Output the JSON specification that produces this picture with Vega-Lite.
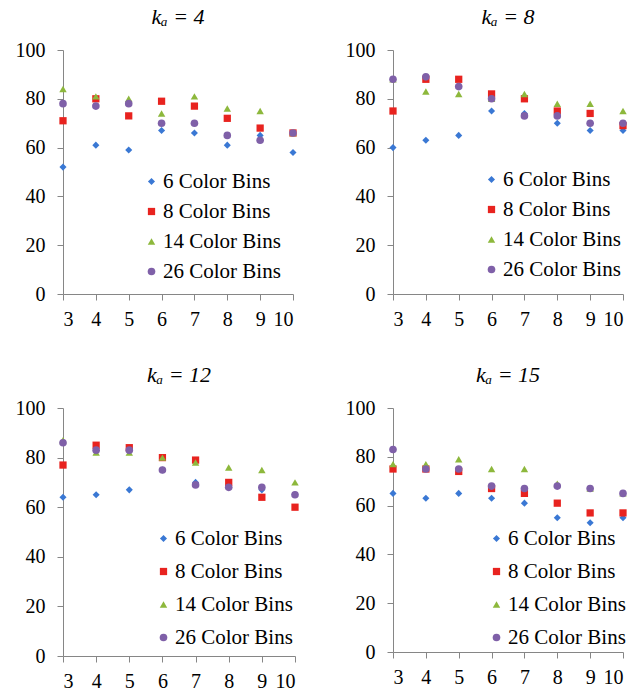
{
  "$schema": "https://vega.github.io/schema/vega-lite/v6.json",
  "background": "white",
  "padding": {"left": 15, "top": 6, "right": 0, "bottom": 0},
  "spacing": {"row": 35, "column": 46},
  "datasets": {
    "acc": [
      {"ka": 4, "k": 3, "bins": "6 Color Bins", "acc": 52},
      {"ka": 4, "k": 4, "bins": "6 Color Bins", "acc": 61},
      {"ka": 4, "k": 5, "bins": "6 Color Bins", "acc": 59},
      {"ka": 4, "k": 6, "bins": "6 Color Bins", "acc": 67},
      {"ka": 4, "k": 7, "bins": "6 Color Bins", "acc": 66},
      {"ka": 4, "k": 8, "bins": "6 Color Bins", "acc": 61},
      {"ka": 4, "k": 9, "bins": "6 Color Bins", "acc": 65},
      {"ka": 4, "k": 10, "bins": "6 Color Bins", "acc": 58},
      {"ka": 4, "k": 3, "bins": "8 Color Bins", "acc": 71},
      {"ka": 4, "k": 4, "bins": "8 Color Bins", "acc": 80},
      {"ka": 4, "k": 5, "bins": "8 Color Bins", "acc": 73},
      {"ka": 4, "k": 6, "bins": "8 Color Bins", "acc": 79},
      {"ka": 4, "k": 7, "bins": "8 Color Bins", "acc": 77},
      {"ka": 4, "k": 8, "bins": "8 Color Bins", "acc": 72},
      {"ka": 4, "k": 9, "bins": "8 Color Bins", "acc": 68},
      {"ka": 4, "k": 10, "bins": "8 Color Bins", "acc": 66},
      {"ka": 4, "k": 3, "bins": "14 Color Bins", "acc": 84},
      {"ka": 4, "k": 4, "bins": "14 Color Bins", "acc": 81},
      {"ka": 4, "k": 5, "bins": "14 Color Bins", "acc": 80},
      {"ka": 4, "k": 6, "bins": "14 Color Bins", "acc": 74},
      {"ka": 4, "k": 7, "bins": "14 Color Bins", "acc": 81},
      {"ka": 4, "k": 8, "bins": "14 Color Bins", "acc": 76},
      {"ka": 4, "k": 9, "bins": "14 Color Bins", "acc": 75},
      {"ka": 4, "k": 10, "bins": "14 Color Bins", "acc": 66},
      {"ka": 4, "k": 3, "bins": "26 Color Bins", "acc": 78},
      {"ka": 4, "k": 4, "bins": "26 Color Bins", "acc": 77},
      {"ka": 4, "k": 5, "bins": "26 Color Bins", "acc": 78},
      {"ka": 4, "k": 6, "bins": "26 Color Bins", "acc": 70},
      {"ka": 4, "k": 7, "bins": "26 Color Bins", "acc": 70},
      {"ka": 4, "k": 8, "bins": "26 Color Bins", "acc": 65},
      {"ka": 4, "k": 9, "bins": "26 Color Bins", "acc": 63},
      {"ka": 4, "k": 10, "bins": "26 Color Bins", "acc": 66},

      {"ka": 8, "k": 3, "bins": "6 Color Bins", "acc": 60},
      {"ka": 8, "k": 4, "bins": "6 Color Bins", "acc": 63},
      {"ka": 8, "k": 5, "bins": "6 Color Bins", "acc": 65},
      {"ka": 8, "k": 6, "bins": "6 Color Bins", "acc": 75},
      {"ka": 8, "k": 7, "bins": "6 Color Bins", "acc": 74},
      {"ka": 8, "k": 8, "bins": "6 Color Bins", "acc": 70},
      {"ka": 8, "k": 9, "bins": "6 Color Bins", "acc": 67},
      {"ka": 8, "k": 10, "bins": "6 Color Bins", "acc": 67},
      {"ka": 8, "k": 3, "bins": "8 Color Bins", "acc": 75},
      {"ka": 8, "k": 4, "bins": "8 Color Bins", "acc": 88},
      {"ka": 8, "k": 5, "bins": "8 Color Bins", "acc": 88},
      {"ka": 8, "k": 6, "bins": "8 Color Bins", "acc": 82},
      {"ka": 8, "k": 7, "bins": "8 Color Bins", "acc": 80},
      {"ka": 8, "k": 8, "bins": "8 Color Bins", "acc": 75},
      {"ka": 8, "k": 9, "bins": "8 Color Bins", "acc": 74},
      {"ka": 8, "k": 10, "bins": "8 Color Bins", "acc": 69},
      {"ka": 8, "k": 3, "bins": "14 Color Bins", "acc": 88},
      {"ka": 8, "k": 4, "bins": "14 Color Bins", "acc": 83},
      {"ka": 8, "k": 5, "bins": "14 Color Bins", "acc": 82},
      {"ka": 8, "k": 6, "bins": "14 Color Bins", "acc": 80},
      {"ka": 8, "k": 7, "bins": "14 Color Bins", "acc": 82},
      {"ka": 8, "k": 8, "bins": "14 Color Bins", "acc": 78},
      {"ka": 8, "k": 9, "bins": "14 Color Bins", "acc": 78},
      {"ka": 8, "k": 10, "bins": "14 Color Bins", "acc": 75},
      {"ka": 8, "k": 3, "bins": "26 Color Bins", "acc": 88},
      {"ka": 8, "k": 4, "bins": "26 Color Bins", "acc": 89},
      {"ka": 8, "k": 5, "bins": "26 Color Bins", "acc": 85},
      {"ka": 8, "k": 6, "bins": "26 Color Bins", "acc": 80},
      {"ka": 8, "k": 7, "bins": "26 Color Bins", "acc": 73},
      {"ka": 8, "k": 8, "bins": "26 Color Bins", "acc": 73},
      {"ka": 8, "k": 9, "bins": "26 Color Bins", "acc": 70},
      {"ka": 8, "k": 10, "bins": "26 Color Bins", "acc": 70},

      {"ka": 12, "k": 3, "bins": "6 Color Bins", "acc": 64},
      {"ka": 12, "k": 4, "bins": "6 Color Bins", "acc": 65},
      {"ka": 12, "k": 5, "bins": "6 Color Bins", "acc": 67},
      {"ka": 12, "k": 6, "bins": "6 Color Bins", "acc": 75},
      {"ka": 12, "k": 7, "bins": "6 Color Bins", "acc": 70},
      {"ka": 12, "k": 8, "bins": "6 Color Bins", "acc": 68},
      {"ka": 12, "k": 9, "bins": "6 Color Bins", "acc": 67},
      {"ka": 12, "k": 10, "bins": "6 Color Bins", "acc": 65},
      {"ka": 12, "k": 3, "bins": "8 Color Bins", "acc": 77},
      {"ka": 12, "k": 4, "bins": "8 Color Bins", "acc": 85},
      {"ka": 12, "k": 5, "bins": "8 Color Bins", "acc": 84},
      {"ka": 12, "k": 6, "bins": "8 Color Bins", "acc": 80},
      {"ka": 12, "k": 7, "bins": "8 Color Bins", "acc": 79},
      {"ka": 12, "k": 8, "bins": "8 Color Bins", "acc": 70},
      {"ka": 12, "k": 9, "bins": "8 Color Bins", "acc": 64},
      {"ka": 12, "k": 10, "bins": "8 Color Bins", "acc": 60},
      {"ka": 12, "k": 3, "bins": "14 Color Bins", "acc": 87},
      {"ka": 12, "k": 4, "bins": "14 Color Bins", "acc": 82},
      {"ka": 12, "k": 5, "bins": "14 Color Bins", "acc": 82},
      {"ka": 12, "k": 6, "bins": "14 Color Bins", "acc": 80},
      {"ka": 12, "k": 7, "bins": "14 Color Bins", "acc": 78},
      {"ka": 12, "k": 8, "bins": "14 Color Bins", "acc": 76},
      {"ka": 12, "k": 9, "bins": "14 Color Bins", "acc": 75},
      {"ka": 12, "k": 10, "bins": "14 Color Bins", "acc": 70},
      {"ka": 12, "k": 3, "bins": "26 Color Bins", "acc": 86},
      {"ka": 12, "k": 4, "bins": "26 Color Bins", "acc": 83},
      {"ka": 12, "k": 5, "bins": "26 Color Bins", "acc": 83},
      {"ka": 12, "k": 6, "bins": "26 Color Bins", "acc": 75},
      {"ka": 12, "k": 7, "bins": "26 Color Bins", "acc": 69},
      {"ka": 12, "k": 8, "bins": "26 Color Bins", "acc": 68},
      {"ka": 12, "k": 9, "bins": "26 Color Bins", "acc": 68},
      {"ka": 12, "k": 10, "bins": "26 Color Bins", "acc": 65},

      {"ka": 15, "k": 3, "bins": "6 Color Bins", "acc": 65},
      {"ka": 15, "k": 4, "bins": "6 Color Bins", "acc": 63},
      {"ka": 15, "k": 5, "bins": "6 Color Bins", "acc": 65},
      {"ka": 15, "k": 6, "bins": "6 Color Bins", "acc": 63},
      {"ka": 15, "k": 7, "bins": "6 Color Bins", "acc": 61},
      {"ka": 15, "k": 8, "bins": "6 Color Bins", "acc": 55},
      {"ka": 15, "k": 9, "bins": "6 Color Bins", "acc": 53},
      {"ka": 15, "k": 10, "bins": "6 Color Bins", "acc": 55},
      {"ka": 15, "k": 3, "bins": "8 Color Bins", "acc": 75},
      {"ka": 15, "k": 4, "bins": "8 Color Bins", "acc": 75},
      {"ka": 15, "k": 5, "bins": "8 Color Bins", "acc": 74},
      {"ka": 15, "k": 6, "bins": "8 Color Bins", "acc": 67},
      {"ka": 15, "k": 7, "bins": "8 Color Bins", "acc": 65},
      {"ka": 15, "k": 8, "bins": "8 Color Bins", "acc": 61},
      {"ka": 15, "k": 9, "bins": "8 Color Bins", "acc": 57},
      {"ka": 15, "k": 10, "bins": "8 Color Bins", "acc": 57},
      {"ka": 15, "k": 3, "bins": "14 Color Bins", "acc": 77},
      {"ka": 15, "k": 4, "bins": "14 Color Bins", "acc": 77},
      {"ka": 15, "k": 5, "bins": "14 Color Bins", "acc": 79},
      {"ka": 15, "k": 6, "bins": "14 Color Bins", "acc": 75},
      {"ka": 15, "k": 7, "bins": "14 Color Bins", "acc": 75},
      {"ka": 15, "k": 8, "bins": "14 Color Bins", "acc": 69},
      {"ka": 15, "k": 9, "bins": "14 Color Bins", "acc": 67},
      {"ka": 15, "k": 10, "bins": "14 Color Bins", "acc": 65},
      {"ka": 15, "k": 3, "bins": "26 Color Bins", "acc": 83},
      {"ka": 15, "k": 4, "bins": "26 Color Bins", "acc": 75},
      {"ka": 15, "k": 5, "bins": "26 Color Bins", "acc": 75},
      {"ka": 15, "k": 6, "bins": "26 Color Bins", "acc": 68},
      {"ka": 15, "k": 7, "bins": "26 Color Bins", "acc": 67},
      {"ka": 15, "k": 8, "bins": "26 Color Bins", "acc": 68},
      {"ka": 15, "k": 9, "bins": "26 Color Bins", "acc": 67},
      {"ka": 15, "k": 10, "bins": "26 Color Bins", "acc": 65}
    ]
  },
  "config": {
    "view": {"stroke": null},
    "axis": {
      "grid": false,
      "domainColor": "#868686",
      "tickColor": "#868686",
      "tickSize": 6,
      "labelFontSize": 20,
      "labelColor": "#000000",
      "title": null
    },
    "legend": {
      "orient": "none",
      "title": null,
      "labelFontSize": 21,
      "labelColor": "#000000",
      "symbolStrokeWidth": 0,
      "labelOffset": 1,
      "padding": 0
    }
  },
  "columns": 2,
  "resolve": {
    "scale": {"color": "independent", "shape": "independent", "size": "independent"},
    "legend": {"color": "independent", "shape": "independent", "size": "independent"}
  },
  "concat": [
    {
      "title": {"text": "kₐ = 4", "font": "Liberation Serif", "fontSize": 22, "fontWeight": "normal", "fontStyle": "italic", "color": "#000000", "offset": 11, "frame": "group"},
      "width": 230, "height": 244,
      "data": {"name": "acc"},
      "transform": [{"filter": "datum.ka == 4"}],
      "mark": {"type": "point", "filled": true, "opacity": 1},
      "encoding": {
        "x": {"field": "k", "type": "quantitative", "scale": {"domain": [3, 10], "nice": false, "zero": false}, "axis": {"values": [3, 4, 5, 6, 7, 8, 9, 10], "labelFont": "Liberation Serif", "labelPadding": 9}},
        "y": {"field": "acc", "type": "quantitative", "scale": {"domain": [0, 100]}, "axis": {"values": [0, 20, 40, 60, 80, 100], "labelFont": "Liberation Serif", "labelPadding": 12}},
        "color": {"field": "bins", "type": "nominal", "scale": {"domain": ["6 Color Bins", "8 Color Bins", "14 Color Bins", "26 Color Bins"], "range": ["#3a78d4", "#e8231f", "#8db83c", "#7f60a8"]}, "legend": {"labelFont": "Liberation Serif", "legendX": 78, "legendY": 121, "rowPadding": 8}},
        "shape": {"field": "bins", "type": "nominal", "scale": {"domain": ["6 Color Bins", "8 Color Bins", "14 Color Bins", "26 Color Bins"], "range": ["diamond", "square", "triangle-up", "circle"]}, "legend": {"labelFont": "Liberation Serif", "legendX": 78, "legendY": 121, "rowPadding": 8}},
        "size": {"field": "bins", "type": "nominal", "scale": {"domain": ["6 Color Bins", "8 Color Bins", "14 Color Bins", "26 Color Bins"], "range": [50, 58, 56, 78]}, "legend": {"labelFont": "Liberation Serif", "legendX": 78, "legendY": 121, "rowPadding": 8}}
      }
    },
    {
      "title": {"text": "kₐ = 8", "font": "Liberation Serif", "fontSize": 22, "fontWeight": "normal", "fontStyle": "italic", "color": "#000000", "offset": 11, "frame": "group"},
      "width": 230, "height": 244,
      "data": {"name": "acc"},
      "transform": [{"filter": "datum.ka == 8"}],
      "mark": {"type": "point", "filled": true, "opacity": 1},
      "encoding": {
        "x": {"field": "k", "type": "quantitative", "scale": {"domain": [3, 10], "nice": false, "zero": false}, "axis": {"values": [3, 4, 5, 6, 7, 8, 9, 10], "labelFont": "Liberation Serif", "labelPadding": 9}},
        "y": {"field": "acc", "type": "quantitative", "scale": {"domain": [0, 100]}, "axis": {"values": [0, 20, 40, 60, 80, 100], "labelFont": "Liberation Serif", "labelPadding": 12}},
        "color": {"field": "bins", "type": "nominal", "scale": {"domain": ["6 Color Bins", "8 Color Bins", "14 Color Bins", "26 Color Bins"], "range": ["#3a78d4", "#e8231f", "#8db83c", "#7f60a8"]}, "legend": {"labelFont": "Liberation Serif", "legendX": 88, "legendY": 119, "rowPadding": 8}},
        "shape": {"field": "bins", "type": "nominal", "scale": {"domain": ["6 Color Bins", "8 Color Bins", "14 Color Bins", "26 Color Bins"], "range": ["diamond", "square", "triangle-up", "circle"]}, "legend": {"labelFont": "Liberation Serif", "legendX": 88, "legendY": 119, "rowPadding": 8}},
        "size": {"field": "bins", "type": "nominal", "scale": {"domain": ["6 Color Bins", "8 Color Bins", "14 Color Bins", "26 Color Bins"], "range": [50, 58, 56, 78]}, "legend": {"labelFont": "Liberation Serif", "legendX": 88, "legendY": 119, "rowPadding": 8}}
      }
    },
    {
      "title": {"text": "kₐ = 12", "font": "Liberation Serif", "fontSize": 22, "fontWeight": "normal", "fontStyle": "italic", "color": "#000000", "offset": 11, "frame": "group"},
      "width": 232, "height": 248,
      "data": {"name": "acc"},
      "transform": [{"filter": "datum.ka == 12"}],
      "mark": {"type": "point", "filled": true, "opacity": 1},
      "encoding": {
        "x": {"field": "k", "type": "quantitative", "scale": {"domain": [3, 10], "nice": false, "zero": false}, "axis": {"values": [3, 4, 5, 6, 7, 8, 9, 10], "labelFont": "Liberation Serif", "labelPadding": 9}},
        "y": {"field": "acc", "type": "quantitative", "scale": {"domain": [0, 100]}, "axis": {"values": [0, 20, 40, 60, 80, 100], "labelFont": "Liberation Serif", "labelPadding": 12}},
        "color": {"field": "bins", "type": "nominal", "scale": {"domain": ["6 Color Bins", "8 Color Bins", "14 Color Bins", "26 Color Bins"], "range": ["#3a78d4", "#e8231f", "#8db83c", "#7f60a8"]}, "legend": {"labelFont": "Liberation Serif", "legendX": 90, "legendY": 120, "rowPadding": 11}},
        "shape": {"field": "bins", "type": "nominal", "scale": {"domain": ["6 Color Bins", "8 Color Bins", "14 Color Bins", "26 Color Bins"], "range": ["diamond", "square", "triangle-up", "circle"]}, "legend": {"labelFont": "Liberation Serif", "legendX": 90, "legendY": 120, "rowPadding": 11}},
        "size": {"field": "bins", "type": "nominal", "scale": {"domain": ["6 Color Bins", "8 Color Bins", "14 Color Bins", "26 Color Bins"], "range": [50, 58, 56, 78]}, "legend": {"labelFont": "Liberation Serif", "legendX": 90, "legendY": 120, "rowPadding": 11}}
      }
    },
    {
      "title": {"text": "kₐ = 15", "font": "Liberation Serif", "fontSize": 22, "fontWeight": "normal", "fontStyle": "italic", "color": "#000000", "offset": 11, "frame": "group"},
      "width": 230, "height": 244,
      "data": {"name": "acc"},
      "transform": [{"filter": "datum.ka == 15"}],
      "mark": {"type": "point", "filled": true, "opacity": 1},
      "encoding": {
        "x": {"field": "k", "type": "quantitative", "scale": {"domain": [3, 10], "nice": false, "zero": false}, "axis": {"values": [3, 4, 5, 6, 7, 8, 9, 10], "labelFont": "Liberation Serif", "labelPadding": 9}},
        "y": {"field": "acc", "type": "quantitative", "scale": {"domain": [0, 100]}, "axis": {"values": [0, 20, 40, 60, 80, 100], "labelFont": "Liberation Serif", "labelPadding": 12}},
        "color": {"field": "bins", "type": "nominal", "scale": {"domain": ["6 Color Bins", "8 Color Bins", "14 Color Bins", "26 Color Bins"], "range": ["#3a78d4", "#e8231f", "#8db83c", "#7f60a8"]}, "legend": {"labelFont": "Liberation Serif", "legendX": 93, "legendY": 120, "rowPadding": 11}},
        "shape": {"field": "bins", "type": "nominal", "scale": {"domain": ["6 Color Bins", "8 Color Bins", "14 Color Bins", "26 Color Bins"], "range": ["diamond", "square", "triangle-up", "circle"]}, "legend": {"labelFont": "Liberation Serif", "legendX": 93, "legendY": 120, "rowPadding": 11}},
        "size": {"field": "bins", "type": "nominal", "scale": {"domain": ["6 Color Bins", "8 Color Bins", "14 Color Bins", "26 Color Bins"], "range": [50, 58, 56, 78]}, "legend": {"labelFont": "Liberation Serif", "legendX": 93, "legendY": 120, "rowPadding": 11}}
      }
    }
  ]
}
